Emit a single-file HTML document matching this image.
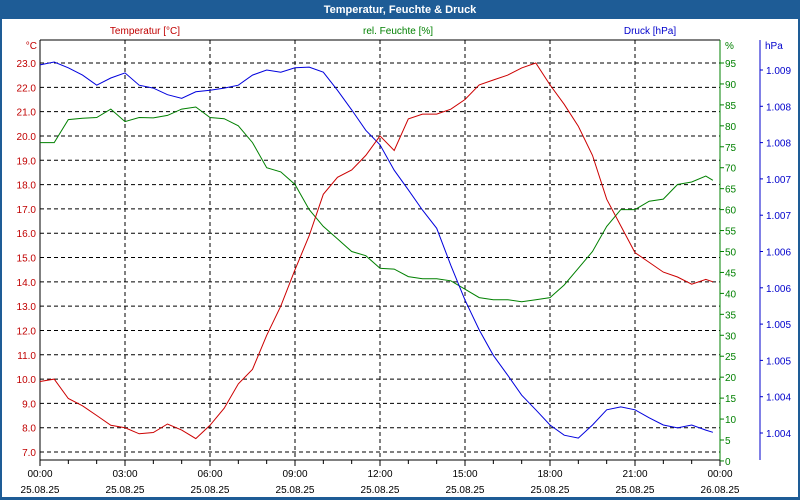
<!DOCTYPE html>
<html><head><meta charset="utf-8"><style>
body{margin:0;background:#fff;}
svg{display:block;font-family:"Liberation Sans",sans-serif;}
</style></head><body>
<svg id="chart" width="800" height="500">
<rect x="0" y="0" width="800" height="500" fill="#1e5c96"/>
<rect x="2" y="19" width="796" height="478" fill="#fff"/>
<text x="400" y="13" fill="#fff" font-size="11" font-weight="bold" text-anchor="middle">Temperatur, Feuchte &amp; Druck</text>
<text x="145" y="34" fill="#c00000" font-size="10" text-anchor="middle">Temperatur [°C]</text>
<text x="398" y="34" fill="#008000" font-size="10" text-anchor="middle">rel. Feuchte [%]</text>
<text x="650" y="34" fill="#0000cc" font-size="10" text-anchor="middle">Druck [hPa]</text>
<text x="37" y="49" fill="#c00000" font-size="10" text-anchor="end">°C</text>
<text x="725" y="49" fill="#008000" font-size="10">%</text>
<text x="765" y="49" fill="#0000cc" font-size="10">hPa</text>
<g id="grid"></g><g id="axes"></g><g id="series"></g>
</svg>
<script>
const hours=[0,0.5,1,1.5,2,2.5,3,3.5,4,4.5,5,5.5,6,6.5,7,7.5,8,8.5,9,9.5,10,10.5,11,11.5,12,12.5,13,13.5,14,14.5,15,15.5,16,16.5,17,17.5,18,18.5,19,19.5,20,20.5,21,21.5,22,22.5,23,23.5,23.75];
const temperature=[9.9,10.0,9.2,8.9,8.5,8.1,8.0,7.75,7.8,8.15,7.9,7.55,8.1,8.8,9.8,10.4,11.8,13.0,14.5,15.9,17.6,18.3,18.6,19.2,20.0,19.4,20.7,20.9,20.9,21.1,21.5,22.1,22.3,22.5,22.8,23.0,22.1,21.3,20.4,19.2,17.4,16.3,15.2,14.8,14.4,14.2,13.9,14.1,14.0];
const humidity=[76,76,81.5,81.8,82,84,81,82,81.9,82.5,84,84.5,82,81.7,80,76,70,69,66,60,56,53,50,49,46,45.8,44,43.5,43.5,43,41,39,38.5,38.5,38,38.5,39,42,46,50,56,60,60,62,62.5,66,66.6,68,67];
const pressure=[1.00907,1.00911,1.00903,1.00893,1.00879,1.00889,1.00896,1.00879,1.00875,1.00866,1.00861,1.00870,1.00872,1.00875,1.00879,1.00893,1.00900,1.00897,1.00903,1.00904,1.00897,1.00872,1.00845,1.00817,1.00797,1.00762,1.00735,1.00707,1.00682,1.00631,1.00583,1.00542,1.00507,1.00480,1.00452,1.00432,1.00411,1.00397,1.00393,1.00411,1.00432,1.00436,1.00432,1.00421,1.00411,1.00407,1.00411,1.00404,1.00401];
const tempTicks=[7,8,9,10,11,12,13,14,15,16,17,18,19,20,21,22,23];
const humTicks=[0,5,10,15,20,25,30,35,40,45,50,55,60,65,70,75,80,85,90,95];
const presTicks=[1.0040,1.0045,1.0050,1.0055,1.0060,1.0065,1.0070,1.0075,1.0080,1.0085,1.0090];
const presLabels=["1.004","1.004","1.005","1.005","1.006","1.006","1.007","1.007","1.008","1.008","1.009"];
const timeTicks=[0,3,6,9,12,15,18,21,24];
const timeLabels=["00:00","03:00","06:00","09:00","12:00","15:00","18:00","21:00","00:00"];
const dateLabels=["25.08.25","25.08.25","25.08.25","25.08.25","25.08.25","25.08.25","25.08.25","25.08.25","26.08.25"];

const L=40,R=720,T=40,B=460;
const xS=h=>L+h*(R-L)/24;
const yT=t=>63+(23-t)*24.3125;
const yH=v=>63+(95-v)*(377/90);
const yP=p=>70+(1.009-p)*72600;
const NS="http://www.w3.org/2000/svg";
function mk(parent,tag,attrs,text){const e=document.createElementNS(NS,tag);for(const k in attrs)e.setAttribute(k,attrs[k]);if(text!==undefined)e.textContent=text;document.getElementById(parent).appendChild(e);return e;}

tempTicks.forEach(t=>{
 const g=mk('grid','line',{x1:L,x2:R,y1:yT(t),y2:yT(t),stroke:'#000','stroke-dasharray':'4,3'});
 
 
 const tx=mk('axes','text',{x:36,y:yT(t)+4,'font-size':10,fill:'#c00000','text-anchor':'end'},t.toFixed(1));
 
 
});
timeTicks.forEach((h,i)=>{
 if(i>0&&i<timeTicks.length-1){const g=mk('grid','line',{x1:xS(h),x2:xS(h),y1:T,y2:B,stroke:'#000','stroke-dasharray':'4,3'});
 
 }
 const a=mk('axes','text',{x:xS(h),y:477,'font-size':10,fill:'#000','text-anchor':'middle'},timeLabels[i]);
 
 
 const b=mk('axes','text',{x:xS(h),y:493,'font-size':10,fill:'#000','text-anchor':'middle'},dateLabels[i]);
 
 
});
for(let h=0;h<=24;h++){const m=mk('axes','line',{x1:xS(h),x2:xS(h),y1:B,y2:B+(h%3?4:6),stroke:'#000'});
 
 }
humTicks.forEach(v=>{
 const m=mk('axes','line',{x1:R,x2:R+4,y1:yH(v),y2:yH(v),stroke:'#008000'});
 
 
 const tx=mk('axes','text',{x:725,y:yH(v)+4,'font-size':10,fill:'#008000'},String(v));
 
 
});
presTicks.forEach((p,i)=>{
 const m=mk('axes','line',{x1:760,x2:763,y1:yP(p),y2:yP(p),stroke:'#0000cc'});
 
 
 const tx=mk('axes','text',{x:766,y:yP(p)+4,'font-size':10,fill:'#0000cc'},presLabels[i]);
 
 
});
const ax=[['x-axis-line',L,B,R,B,'#000'],['y-axis-line',L,T,L,B,'#000'],['plot-top-border',L,T,R,T,'#000'],['humidity-axis-line',R,T,R,B,'#008000'],['pressure-axis-line',760,T,760,B,'#0000cc']];
ax.forEach(a=>{const e=mk('axes','line',{x1:a[1],y1:a[2],x2:a[3],y2:a[4],stroke:a[5]});
 
 });
function series(vals,yf,color,name){
 const pts=vals.map((v,i)=>xS(hours[i]).toFixed(1)+','+yf(v).toFixed(1)).join(' ');
 const p=mk('series','polyline',{points:pts,fill:'none',stroke:color,'stroke-width':1});
 
 
}
series(humidity,yH,'#008000','humidity-line');
series(pressure,yP,'#0000dd','pressure-line');
series(temperature,yT,'#cc0000','temperature-line');
</script>
</body></html>
